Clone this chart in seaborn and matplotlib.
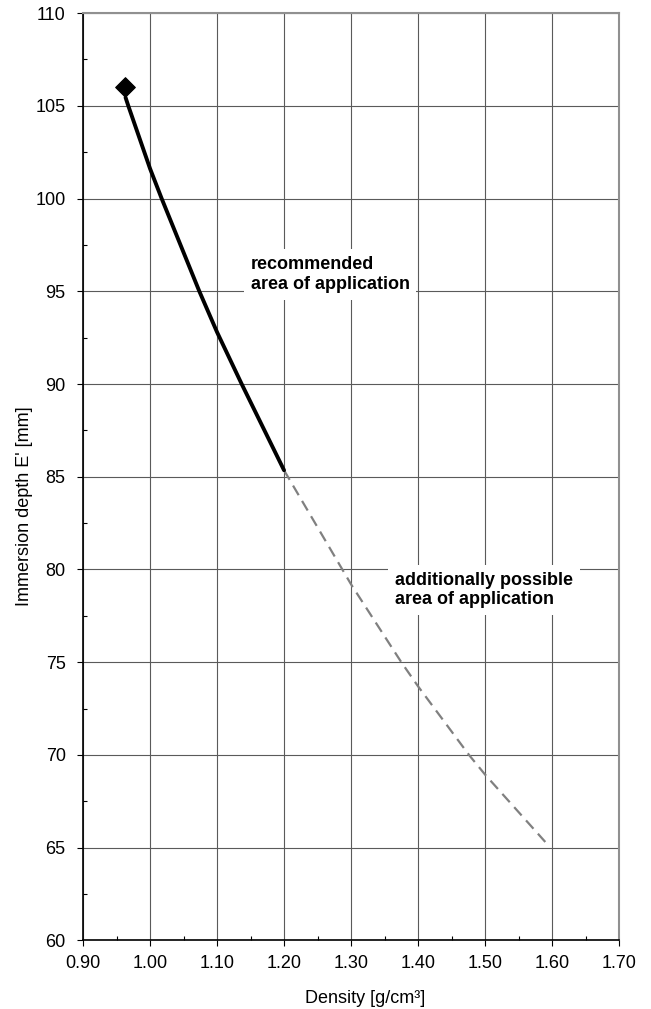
import matplotlib
matplotlib.use("Agg")
import matplotlib.pyplot as plt
import seaborn as sns
import pandas as pd
from matplotlib.ticker import MultipleLocator, FormatStrFormatter

# curve
recommended_density = [0.9635, 0.9676, 1.000, 1.0174, 1.0736, 1.100, 1.1368, 1.200]
recommended_depth = [105.45, 105.0, 101.62, 100.0, 95.0, 92.8, 90.0, 85.35]

possible_density = [1.200, 1.287, 1.300, 1.375, 1.400, 1.476, 1.500, 1.595]
possible_depth = [85.35, 80.0, 79.2, 75.0, 73.7, 70.0, 68.94, 65.1]

start_density = [0.962]
start_depth = [106.0]

x_ticks = [0.90, 1.00, 1.10, 1.20, 1.30, 1.40, 1.50, 1.60, 1.70]
y_ticks = [60, 65, 70, 75, 80, 85, 90, 95, 100, 105, 110]

sns.set_theme(style="white")
plt.rcParams['font.family'] = ['Liberation Sans', 'DejaVu Sans']
for key in ['text.color', 'axes.labelcolor', 'xtick.color', 'ytick.color']:
    plt.rcParams[key] = 'black'

df_rec = pd.DataFrame({'density': recommended_density, 'depth': recommended_depth})
df_pos = pd.DataFrame({'density': possible_density, 'depth': possible_depth})
df_start = pd.DataFrame({'density': start_density, 'depth': start_depth})

fig, ax = plt.subplots(figsize=(6.51, 10.09), dpi=100)
fig.subplots_adjust(left=0.1275, right=0.951, top=0.987, bottom=0.068)

sns.lineplot(data=df_pos, x='density', y='depth', ax=ax, color='#808080',
             linewidth=1.6, linestyle=(0, (5, 3)), zorder=3)
sns.lineplot(data=df_rec, x='density', y='depth', ax=ax, color='black',
             linewidth=2.8, zorder=4)
sns.scatterplot(data=df_start, x='density', y='depth', ax=ax, marker='D',
                color='black', s=100, edgecolor='black', zorder=5)

ax.set_xlim(0.90, 1.70)
ax.set_ylim(60, 110)
ax.set_xticks(x_ticks)
ax.set_yticks(y_ticks)
ax.xaxis.set_major_formatter(FormatStrFormatter('%.2f'))
ax.xaxis.set_minor_locator(MultipleLocator(0.05))
ax.yaxis.set_minor_locator(MultipleLocator(2.5))

ax.grid(True, which='major', color='#5a5a5a', linewidth=0.8)
ax.set_axisbelow(True)

ax.tick_params(axis='y', which='major', direction='out', length=4.5, width=0.8,
               labelsize=13, left=True, pad=8)
ax.tick_params(axis='x', which='major', direction='out', length=4.5, width=0.8,
               labelsize=13, bottom=True, pad=6)
ax.tick_params(which='minor', direction='in', length=3, width=0.8,
               color='black', left=True, bottom=True)

for side in ['left', 'bottom']:
    ax.spines[side].set_color('black')
    ax.spines[side].set_linewidth(1.2)
for side in ['top', 'right']:
    ax.spines[side].set_color('#909090')
    ax.spines[side].set_linewidth(1.5)

ax.set_xlabel('Density [g/cm³]', fontsize=13)
ax.set_ylabel("Immersion depth E' [mm]", fontsize=13)
ax.xaxis.set_label_coords(0.526, -0.053)
ax.yaxis.set_label_coords(-0.093, 0.468)

ax.text(1.150, 95.9, "recommended\narea of application", fontsize=13,
        fontweight='bold', ha='left', va='center', zorder=2,
        bbox=dict(facecolor='white', edgecolor='none', pad=5))
ax.text(1.366, 78.9, "additionally possible\narea of application", fontsize=13,
        fontweight='bold', ha='left', va='center', zorder=2,
        bbox=dict(facecolor='white', edgecolor='none', pad=5))

plt.savefig('out.png', dpi=100)
plt.close()
